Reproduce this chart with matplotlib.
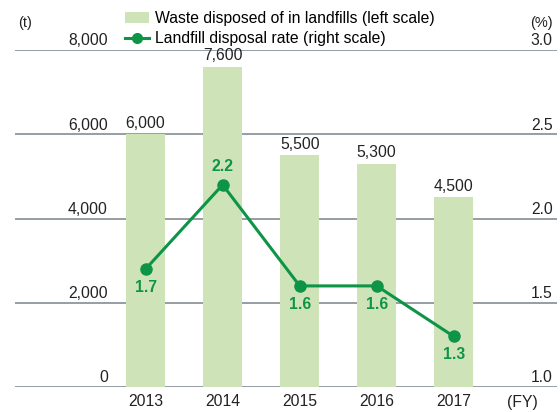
import matplotlib
matplotlib.use("Agg")
import matplotlib.pyplot as plt
from matplotlib.lines import Line2D
from matplotlib.patches import Patch

plt.rcParams["font.family"] = ["Liberation Sans", "DejaVu Sans"]

BAR = "#cfe3b9"
GREEN = "#0d9447"
GRID = "#8d969c"
TXT = "#222222"
FS = 11.3

years = ["2013", "2014", "2015", "2016", "2017"]
waste_t = [6000, 7600, 5500, 5300, 4500]
rate_pct = [1.7, 2.2, 1.6, 1.6, 1.3]
left_ticks = [0, 2000, 4000, 6000, 8000]
right_ticks = [1.0, 1.5, 2.0, 2.5, 3.0]
# label above (+) or below (-) the point
rate_label_side = [-1, 1, -1, -1, -1]

fig = plt.figure(figsize=(5.6, 4.12), dpi=100)
ax = fig.add_axes([15 / 560, 1 - 387 / 412, 542 / 560, 337 / 412])
ax2 = ax.twinx()

x = list(range(len(years)))
ax.bar(x, waste_t, width=0.51, color=BAR, zorder=2)
ax.set_ylim(0, 8000)
ax.set_xlim(-1.695, 5.34)
ax2.set_ylim(1.0, 3.0)

for v in left_ticks:
    ax.axhline(v, color=GRID, lw=1.3, zorder=1)
    ax.text(93 / 542, v + 40, f"{v:,}", transform=ax.get_yaxis_transform(),
            ha="right", va="bottom", fontsize=FS, color=TXT)
for v in right_ticks:
    ax2.text(0.992, v + 0.01, f"{v:.1f}", transform=ax2.get_yaxis_transform(),
             ha="right", va="bottom", fontsize=FS, color=TXT)

for xi, v in zip(x, waste_t):
    ax.text(xi, v + 80, f"{v:,}", ha="center", va="bottom", fontsize=FS, color=TXT, zorder=4)

ax2.plot(x, rate_pct, color=GREEN, lw=2.2, marker="o", ms=8, zorder=5)
for xi, v, s in zip(x, rate_pct, rate_label_side):
    ax2.text(xi, v + s * 0.065, f"{v:.1f}", ha="center", va="bottom" if s > 0 else "top",
             fontsize=FS, color=GREEN, fontweight="bold", zorder=6)

for a in (ax, ax2):
    a.set_yticks([])
    for sp in a.spines.values():
        sp.set_visible(False)
ax.set_xticks(x)
ax.set_xticklabels(years, fontsize=FS, color=TXT)
ax.tick_params(axis="x", length=0, pad=5)
ax.text(522, 412 - 402, "(FY)", transform=None, ha="center", va="center", fontsize=FS, color=TXT)

fig.text(18 / 560, 1 - 23 / 412, "(t)", ha="left", va="center", fontsize=10.5, color=TXT)
fig.text(553 / 560, 1 - 23 / 412, "(%)", ha="right", va="center", fontsize=10.5, color=TXT)

handles = [Patch(facecolor=BAR, edgecolor="none"),
           Line2D([0], [0], color=GREEN, lw=2.2, marker="o", ms=7)]
labels = ["Waste disposed of in landfills (left scale)", "Landfill disposal rate (right scale)"]
fig.legend(handles, labels, loc="upper left", bbox_to_anchor=(125 / 560, 1 - 11 / 412),
           frameon=False, fontsize=FS, handlelength=1.5, handleheight=0.7,
           labelspacing=0.35, handletextpad=0.4, borderpad=0, borderaxespad=0)

fig.savefig("out.png", dpi=100)
